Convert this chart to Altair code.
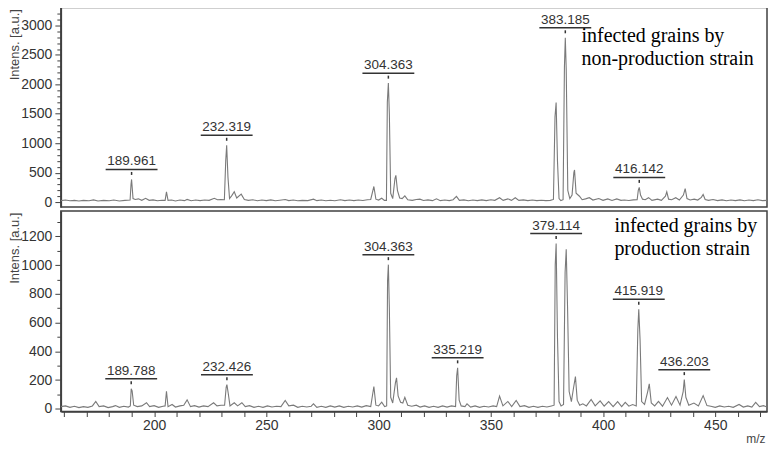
import altair as alt
import pandas as pd

# ---------------- data ----------------
top_spectrum = [
    (158.5, 25), (160.5, 35), (162.5, 22), (164.5, 30), (166.5, 18), (168.5, 30), (171, 22), (173, 38),
    (175, 20), (177.5, 30), (180, 22), (182, 35), (184.5, 20), (187, 30), (189.3, 35), (189.7, 300),
    (189.96, 385), (190.6, 60), (191.6, 45), (193, 55), (194.5, 30), (196.2, 65), (197.8, 30), (199.5, 38),
    (201.5, 22), (203.5, 32), (204.9, 30), (205.5, 175), (206.2, 30), (207.8, 35), (209.5, 20), (211.5, 35),
    (213.5, 25), (214.7, 45), (216.5, 22), (218.5, 35), (220.5, 25), (222.5, 35), (224.5, 30), (226.8, 65),
    (228.2, 40), (229.8, 45), (231.3, 40), (231.9, 700), (232.32, 965), (232.9, 420), (233.6, 60),
    (234.6, 110), (235.7, 175), (236.8, 70), (238.8, 135), (240.2, 45), (242, 30), (244, 40), (246, 22),
    (248, 35), (250, 25), (252, 38), (254, 22), (256, 32), (258.4, 45), (260, 25), (262, 35), (264, 22),
    (266, 30), (268.5, 25), (271, 50), (272.5, 25), (274.5, 35), (276.5, 22), (278.5, 32), (280.5, 22),
    (283, 40), (285, 25), (287, 35), (289, 25), (291, 35), (293, 28), (295, 40), (296.5, 45), (297.9, 265),
    (298.8, 50), (300, 35), (301.4, 65), (302.6, 30), (303.5, 30), (303.9, 1700), (304.36, 2020),
    (304.8, 1500), (305.4, 150), (306.3, 60), (307.3, 400), (307.7, 455), (308.4, 200), (309.4, 70),
    (310.5, 60), (311.7, 105), (313, 40), (315, 30), (316.8, 45), (318.4, 50), (320, 28), (322, 38),
    (324, 25), (325.8, 55), (327.5, 25), (329.5, 35), (331.5, 25), (333.2, 40), (334.7, 96), (336, 30),
    (338, 38), (340, 22), (342, 35), (344, 25), (346, 38), (348, 25), (350, 40), (351.8, 30), (353.9, 75),
    (355.5, 30), (357.6, 55), (359.2, 30), (360.9, 75), (362.5, 30), (364.5, 38), (366.5, 25), (368.5, 35),
    (370.5, 25), (372.5, 32), (374.5, 25), (376.5, 30), (377.9, 45), (378.6, 1450), (379.1, 1690),
    (379.7, 700), (380.4, 60), (381.2, 25), (382.2, 40), (382.8, 2300), (383.19, 2790), (383.6, 2250),
    (384.3, 200), (385.2, 60), (386.2, 120), (387.0, 500), (387.3, 545), (388.0, 150), (389.5, 100),
    (390.7, 40), (392.2, 55), (393.9, 75), (395.5, 35), (398.1, 60), (400, 30), (402.1, 55), (404, 28),
    (406.1, 55), (408, 30), (409.5, 35), (411.5, 28), (413.5, 38), (415.2, 40), (415.7, 200),
    (416.14, 250), (416.7, 120), (417.6, 50), (418.8, 40), (420.3, 75), (421.8, 30), (424.3, 50),
    (426, 30), (427.8, 100), (428.4, 175), (429.2, 50), (430.6, 40), (432.4, 75), (434, 35), (435.8, 120),
    (436.6, 230), (437.4, 60), (438.8, 35), (440.6, 50), (442.2, 35), (443.8, 80), (444.6, 130),
    (445.5, 45), (447, 30), (449, 45), (451, 25), (453, 38), (455, 22), (457, 35), (459, 25), (461, 38),
    (463, 22), (465, 35), (467, 25), (469, 40), (471, 25), (473.1, 30),
]

bottom_spectrum = [
    (158.5, 15), (160.5, 20), (162.5, 10), (164.5, 18), (166.5, 8), (168.5, 15), (170.5, 10), (172.5, 20),
    (174.0, 51), (175.5, 15), (177.5, 20), (179.5, 8), (181.5, 15), (182.8, 22), (184.5, 10), (186.5, 18),
    (188.5, 12), (189.4, 20), (189.79, 140), (190.2, 125), (190.9, 25), (192.5, 15), (194.5, 20),
    (196.6, 42), (198, 15), (200, 22), (202, 10), (204, 18), (204.9, 20), (205.5, 122), (206.2, 15),
    (208, 30), (209.5, 12), (211.5, 20), (213.2, 25), (214.7, 62), (216.2, 15), (218, 22), (220, 12),
    (222, 20), (224, 15), (226.5, 42), (228, 20), (229.8, 25), (231.4, 25), (232.1, 150), (232.43, 168),
    (233.0, 110), (233.8, 20), (235.7, 42), (237.2, 20), (239.1, 42), (240.6, 15), (242.5, 22),
    (244.5, 10), (246.5, 18), (248.5, 10), (250.5, 20), (252.5, 12), (254.5, 18), (256.5, 15),
    (258.4, 58), (260, 20), (262.1, 25), (264, 10), (266, 18), (268, 12), (270, 18), (271.0, 35),
    (272.5, 10), (274.5, 18), (276.5, 10), (278.5, 20), (280.5, 12), (282.5, 20), (284.5, 10),
    (286.5, 18), (288.5, 12), (290.5, 20), (292.5, 12), (294.5, 22), (296.5, 15), (297.9, 155),
    (298.8, 25), (300, 20), (301.4, 46), (302.7, 15), (303.6, 20), (304.0, 890), (304.36, 1003),
    (304.8, 700), (305.4, 80), (306.3, 40), (307.5, 180), (308.0, 215), (308.7, 90), (309.8, 45),
    (310.8, 40), (311.7, 80), (313, 25), (314.8, 18), (316.8, 25), (318.5, 12), (320.5, 20), (322.5, 10),
    (324.5, 18), (326.5, 10), (328.5, 20), (330.5, 12), (332.5, 20), (334.3, 15), (334.8, 230),
    (335.22, 285), (335.9, 60), (336.8, 20), (338.5, 15), (339.4, 35), (341, 12), (343, 20), (345, 10),
    (347, 18), (349, 12), (351, 20), (352.6, 15), (353.9, 88), (355.4, 20), (357.6, 51), (359.3, 15),
    (361.3, 58), (363, 15), (365, 22), (367, 10), (369, 18), (371, 10), (373, 18), (375, 12), (377, 20),
    (378.2, 25), (378.7, 1000), (379.11, 1150), (379.7, 500), (380.4, 50), (381.3, 20), (382.4, 30),
    (383.1, 950), (383.6, 1110), (384.2, 700), (384.9, 120), (385.9, 50), (386.9, 150), (387.7, 224),
    (388.5, 60), (389.6, 25), (391, 35), (392.6, 20), (394.7, 65), (396.5, 20), (398.7, 55), (400.5, 18),
    (402.5, 50), (404.5, 15), (406.5, 50), (408.3, 15), (409.9, 45), (411.5, 18), (413.2, 30),
    (414.8, 20), (415.5, 550), (415.92, 692), (416.5, 480), (417.2, 50), (418.5, 30), (419.9, 120),
    (420.6, 173), (421.5, 40), (423, 20), (424.7, 51), (426.5, 18), (428.7, 78), (430.5, 25), (432.5, 85),
    (434.3, 25), (435.7, 120), (436.2, 203), (436.9, 80), (438.2, 25), (440.5, 40), (442.5, 20),
    (444.6, 92), (446.3, 22), (448, 18), (450, 10), (452, 20), (454, 12), (456, 18), (458, 10),
    (460.6, 30), (462.5, 12), (464.5, 20), (466.3, 12), (468.0, 45), (469.7, 15), (471.5, 22),
    (473.1, 12),
]

top_labels = ["189.961", "232.319", "304.363", "383.185", "416.142"]
top_label_mz = [189.96, 232.32, 304.36, 383.19, 416.14]
top_label_int = [385, 965, 2020, 2790, 250]

bottom_labels = ["189.788", "232.426", "304.363", "335.219", "379.114", "415.919", "436.203"]
bottom_label_mz = [189.79, 232.43, 304.36, 335.22, 379.11, 415.92, 436.2]
bottom_label_int = [140, 168, 1003, 285, 1150, 692, 203]

top_caption = ["infected grains by", "non-production strain"]
bottom_caption = ["infected grains by", "production strain"]

x_tick_values = list(range(160, 471, 10))
top_y_ticks = list(range(0, 3201, 100))
bottom_y_ticks = list(range(0, 1301, 100))

X_DOMAIN = [158.45, 473.05]
TOP_Y_DOMAIN = [-84, 3303]
BOTTOM_Y_DOMAIN = [-19, 1376]

SANS = "Liberation Sans"
SERIF = "Liberation Serif"
DARK = "#333333"
FRAME = "#404040"


def panel(spectrum, labels, label_mz, label_int, caption, cap_x, cap_y,
          y_domain, y_ticks, major_step, height, show_x):
    df = pd.DataFrame(spectrum, columns=["mz", "intensity"])
    lab = pd.DataFrame({"mz": label_mz, "intensity": label_int, "label": labels})

    if show_x:
        x_axis = alt.Axis(
            values=x_tick_values,
            labelExpr="datum.value % 50 === 0 ? datum.label : ''",
            format="d", grid=False, tickSize=5, labelPadding=2,
            labelOverlap=False, labelFlush=False,
            title="m/z", titleX=706, titleY=27, titleAlign="right",
            titleBaseline="middle", titleFontSize=12, titleAnchor="end",
        )
    else:
        x_axis = None

    y_axis = alt.Axis(
        values=y_ticks,
        labelExpr=f"datum.value % {major_step} === 0 ? datum.label : ''",
        format="d", grid=False, labelOverlap=False, labelFlush=False,
        tickSize={"condition": {"test": f"datum.value % {major_step} === 0", "value": 6}, "value": 4},
        labelPadding=3,
        title="Intens. [a.u.]", titleAnchor="end", titleAngle=270, titleAlign="right",
        titleX=-39, titleY=1, titleBaseline="bottom", titleFontSize=13,
    )

    x = alt.X("mz:Q", scale=alt.Scale(domain=X_DOMAIN, nice=False, zero=False), axis=x_axis)
    y = alt.Y("intensity:Q", scale=alt.Scale(domain=y_domain, nice=False, zero=False), axis=y_axis)

    line = alt.Chart(df).mark_line(color="#7a7a7a", strokeWidth=1.1, clip=True).encode(x=x, y=y)
    text = alt.Chart(lab).mark_text(font=SANS, fontSize=13.5, color=DARK, baseline="middle",
                                    dy=-18).encode(x=x, y=y, text="label:N")
    bar = alt.Chart(lab).mark_tick(orient="horizontal", size=52, thickness=1.5, color=DARK,
                                   yOffset=-10, opacity=1).encode(x=x, y=y)
    dot = alt.Chart(lab).mark_tick(orient="vertical", size=3, thickness=1.5, color=DARK,
                                   yOffset=-6, opacity=1).encode(x=x, y=y)
    cap1 = alt.Chart(pd.DataFrame({"t": [caption[0]]})).mark_text(
        font=SERIF, fontSize=20, color="black", align="left", baseline="middle"
    ).encode(x=alt.value(cap_x), y=alt.value(cap_y[0]), text="t:N")
    cap2 = alt.Chart(pd.DataFrame({"t": [caption[1]]})).mark_text(
        font=SERIF, fontSize=20, color="black", align="left", baseline="middle"
    ).encode(x=alt.value(cap_x), y=alt.value(cap_y[1]), text="t:N")

    return alt.layer(line, bar, dot, text, cap1, cap2).properties(width=708, height=height)


top = panel(top_spectrum, top_labels, top_label_mz, top_label_int, top_caption, 522, (29, 52),
            TOP_Y_DOMAIN, top_y_ticks, 500, 200, False)
bottom = panel(bottom_spectrum, bottom_labels, bottom_label_mz, bottom_label_int, bottom_caption, 555, (15, 38),
               BOTTOM_Y_DOMAIN, bottom_y_ticks, 200, 201, True)

chart = alt.vconcat(top, bottom, spacing=0).properties(
    padding={"left": 0, "top": -3, "right": 0, "bottom": 0},
    background="white",
).configure_view(
    stroke=FRAME, strokeWidth=1.5
).configure_axis(
    labelFont=SANS, labelFontSize=14, labelColor=DARK,
    titleFont=SANS, titleFontSize=13.5, titleFontWeight="normal", titleColor="#444444",
    domainColor=FRAME, domainWidth=1.5, tickColor=FRAME, tickWidth=1,
)

chart.save("out.html", embed_options={"renderer": "svg", "actions": False})
